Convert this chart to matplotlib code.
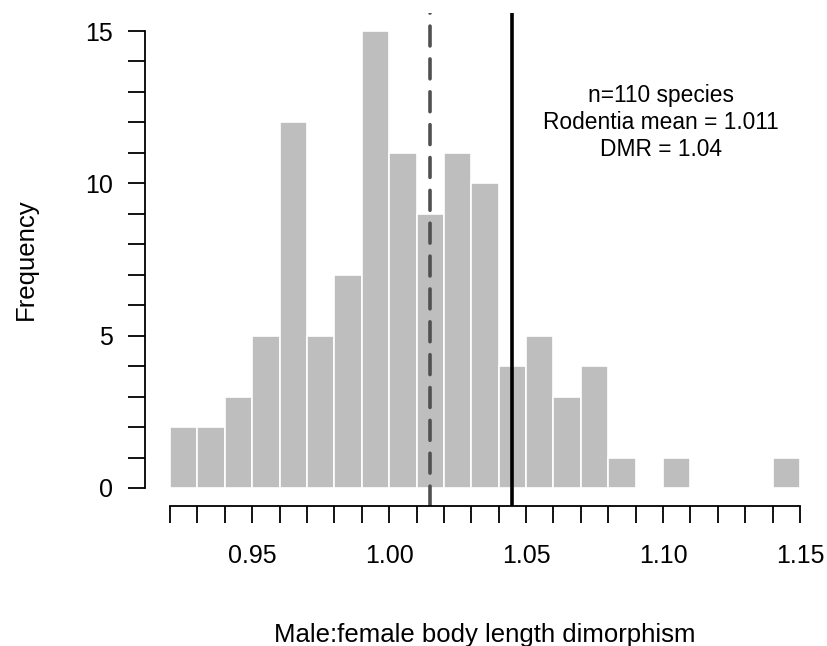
import numpy as np
import matplotlib
matplotlib.use("Agg")
import matplotlib.pyplot as plt

# histogram bins (width 0.01) and counts
bin_edges = np.round(np.arange(0.92, 1.1501, 0.01), 2)
counts = [2, 2, 3, 5, 12, 5, 7, 15, 11, 9, 11, 10, 4, 5, 3, 4, 1, 0, 1, 0, 0, 0, 1]

mean_line = 1.015
dmr_line = 1.045
x_ticks = [0.95, 1.00, 1.05, 1.10, 1.15]
y_ticks = [0, 5, 10, 15]
notes = ["n=110 species", "Rodentia mean = 1.011", "DMR = 1.04"]

plt.rcParams['font.family'] = ['Liberation Sans', 'DejaVu Sans']

fig = plt.figure(figsize=(8.27, 6.46), dpi=100)
ax = fig.add_axes([0.1751, 0.2163, 0.8227, 0.764])

ax.bar(bin_edges[:-1], counts, width=0.01, align='edge',
       color='#bebebe', edgecolor='white', linewidth=1.2)

ax.axvline(mean_line, color='#505050', lw=2.6, linestyle=(0, (5.5, 3.6)),
           dash_capstyle='round')
ax.axvline(dmr_line, color='black', lw=2.6)

# R style axis extents (4% padding)
xr = 1.15 - 0.92
ax.set_xlim(0.92 - 0.04 * xr, 1.15 + 0.04 * xr)
ax.set_ylim(-0.6, 15.6)

for s in ['top', 'right']:
    ax.spines[s].set_visible(False)
ax.spines['bottom'].set_bounds(0.92, 1.15)
ax.spines['left'].set_bounds(0, 15)
ax.spines['bottom'].set_linewidth(1.3)
ax.spines['left'].set_linewidth(1.3)

ax.set_xticks(bin_edges, minor=True)
ax.set_xticks(x_ticks)
ax.set_xticklabels([f"{v:.2f}" for v in x_ticks])
ax.set_yticks(np.arange(0, 16), minor=True)
ax.set_yticks(y_ticks)
ax.tick_params(which='both', length=12, width=1.3, labelsize=18, pad=15)
ax.tick_params(axis='y', which='both', pad=11)

ax.set_xlabel("Male:female body length dimorphism", fontsize=18.5, labelpad=40)
ax.set_ylabel("Frequency", fontsize=18.5, labelpad=34)

ax.text(1.0992, 12.0, "\n".join(notes), ha='center', va='center',
        fontsize=16.4, linespacing=1.22)

fig.savefig("out.png", dpi=100)
